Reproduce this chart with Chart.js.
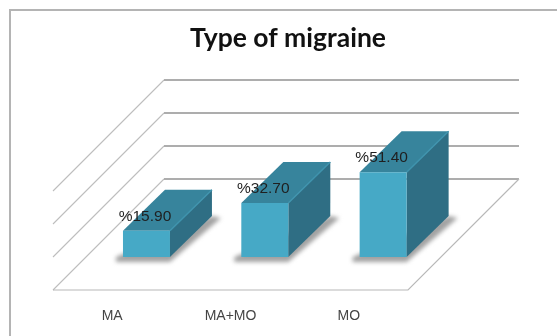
<!DOCTYPE html>
<html>
<head>
<meta charset="utf-8">
<style>
html,body{margin:0;padding:0;background:#fff;width:557px;height:336px;overflow:hidden}
#frame{position:absolute;left:9px;top:9px;width:548px;height:327px;border-left:2px solid #b4b4b4;border-top:2px solid #b4b4b4;box-sizing:border-box}
canvas{position:absolute;left:0;top:0;filter:blur(0.55px)}
</style>
<script src="https://cdn.jsdelivr.net/npm/chart.js@4"></script>
</head>
<body>
<div id="frame"></div>
<canvas id="c" width="540" height="336" style="width:540px;height:336px"></canvas>
<script>
const chartTitle = 'Type of migraine';
const categories = ['MA', 'MA+MO', 'MO'];
const values = [15.9, 32.7, 51.4];
const yTicks = [0, 20, 40, 60];

const floorDepth = 111;
const barInset = {x: 34.3, y: 33};
const barDepth = {x: 42, y: 41};
const titleShift = 57.5;

const box3d = {
  id: 'box3d',
  afterLayout(chart) {
    chart.titleBlock.left += titleShift;
    chart.titleBlock.right += titleShift;
  },
  beforeDatasetsDraw(chart) {
    const {ctx, chartArea: a, scales: {y}} = chart;
    ctx.save();
    yTicks.forEach((t) => {
      const py = y.getPixelForValue(t);
      ctx.strokeStyle = '#bdbdbd';
      ctx.lineWidth = 1.1;
      ctx.beginPath();
      ctx.moveTo(a.left, py);
      ctx.lineTo(a.left + floorDepth, py - floorDepth);
      ctx.stroke();
      ctx.strokeStyle = '#adadad';
      ctx.lineWidth = 1.8;
      ctx.beginPath();
      ctx.moveTo(a.left + floorDepth, py - floorDepth);
      ctx.lineTo(a.right + floorDepth, py - floorDepth);
      ctx.stroke();
    });
    const p0 = y.getPixelForValue(0);
    ctx.strokeStyle = '#b8b8b8';
    ctx.lineWidth = 1.2;
    ctx.beginPath();
    ctx.moveTo(a.left, p0);
    ctx.lineTo(a.right, p0);
    ctx.lineTo(a.right + floorDepth, p0 - floorDepth);
    ctx.stroke();

    ctx.save();
    ctx.translate(barInset.x, -barInset.y);
    const bars = chart.getDatasetMeta(0).data;
    bars.forEach((b) => {
      const l = b.x - b.width / 2, r = b.x + b.width / 2, t = b.y, o = b.base;
      ctx.save();
      ctx.filter = 'blur(2.2px)';
      ctx.fillStyle = '#a2a2a2';
      ctx.beginPath();
      ctx.moveTo(l - 7, o);
      ctx.lineTo(l - 7, o + 5);
      ctx.lineTo(r, o + 5);
      ctx.lineTo(r + barDepth.x + 9, o - barDepth.y + 2);
      ctx.lineTo(r + barDepth.x, o - barDepth.y);
      ctx.closePath();
      ctx.fill();
      ctx.restore();
      ctx.fillStyle = '#2f6e84';
      ctx.beginPath();
      ctx.moveTo(r, t);
      ctx.lineTo(r + barDepth.x, t - barDepth.y);
      ctx.lineTo(r + barDepth.x, o - barDepth.y);
      ctx.lineTo(r, o);
      ctx.closePath();
      ctx.fill();
      ctx.fillStyle = '#37849c';
      ctx.beginPath();
      ctx.moveTo(l, t);
      ctx.lineTo(l + barDepth.x, t - barDepth.y);
      ctx.lineTo(r + barDepth.x, t - barDepth.y);
      ctx.lineTo(r, t);
      ctx.closePath();
      ctx.fill();
      ctx.strokeStyle = '#3f93ad';
      ctx.lineWidth = 1.5;
      ctx.beginPath();
      ctx.moveTo(r, t);
      ctx.lineTo(r + barDepth.x, t - barDepth.y);
      ctx.stroke();
    });
  },
  afterDatasetsDraw(chart) {
    const {ctx} = chart;
    ctx.restore();
    ctx.restore();
    ctx.save();
    ctx.font = '15.5px "Liberation Sans"';
    ctx.fillStyle = '#1f1f1f';
    ctx.textAlign = 'center';
    ctx.textBaseline = 'middle';
    chart.getDatasetMeta(0).data.forEach((b, i) => {
      const text = '%' + values[i].toFixed(2);
      ctx.fillText(text, b.x + barInset.x - 1.5, b.y - barInset.y - 14.5);
    });
    ctx.restore();
  }
};

new Chart(document.getElementById('c'), {
  type: 'bar',
  data: {
    labels: categories,
    datasets: [{
      data: values,
      backgroundColor: '#46a9c6',
      borderWidth: 0,
      categoryPercentage: 1,
      barPercentage: 0.397
    }]
  },
  plugins: [box3d],
  options: {
    responsive: false,
    animation: false,
    events: [],
    layout: {padding: {left: 53, right: 132, top: 0, bottom: 0}},
    plugins: {
      legend: {display: false},
      tooltip: {enabled: false},
      title: {
        display: true,
        text: chartTitle,
        color: '#111',
        font: {family: 'Lato', size: 26.5, weight: 'bold', lineHeight: 1.2},
        padding: {top: 23, bottom: 136.2}
      }
    },
    scales: {
      x: {
        grid: {display: false},
        border: {display: false},
        afterFit: (s) => { s.height = 46; },
        ticks: {
          color: '#444',
          padding: 10,
          maxRotation: 0,
          font: {family: 'Liberation Sans', size: 14}
        }
      },
      y: {
        min: 0,
        max: 60,
        afterFit: (s) => { s.width = 0; },
        grid: {display: false},
        border: {display: false},
        afterBuildTicks: (s) => { s.ticks = yTicks.map((v) => ({value: v})); },
        ticks: {display: false}
      }
    }
  }
});
</script>
</body>
</html>
